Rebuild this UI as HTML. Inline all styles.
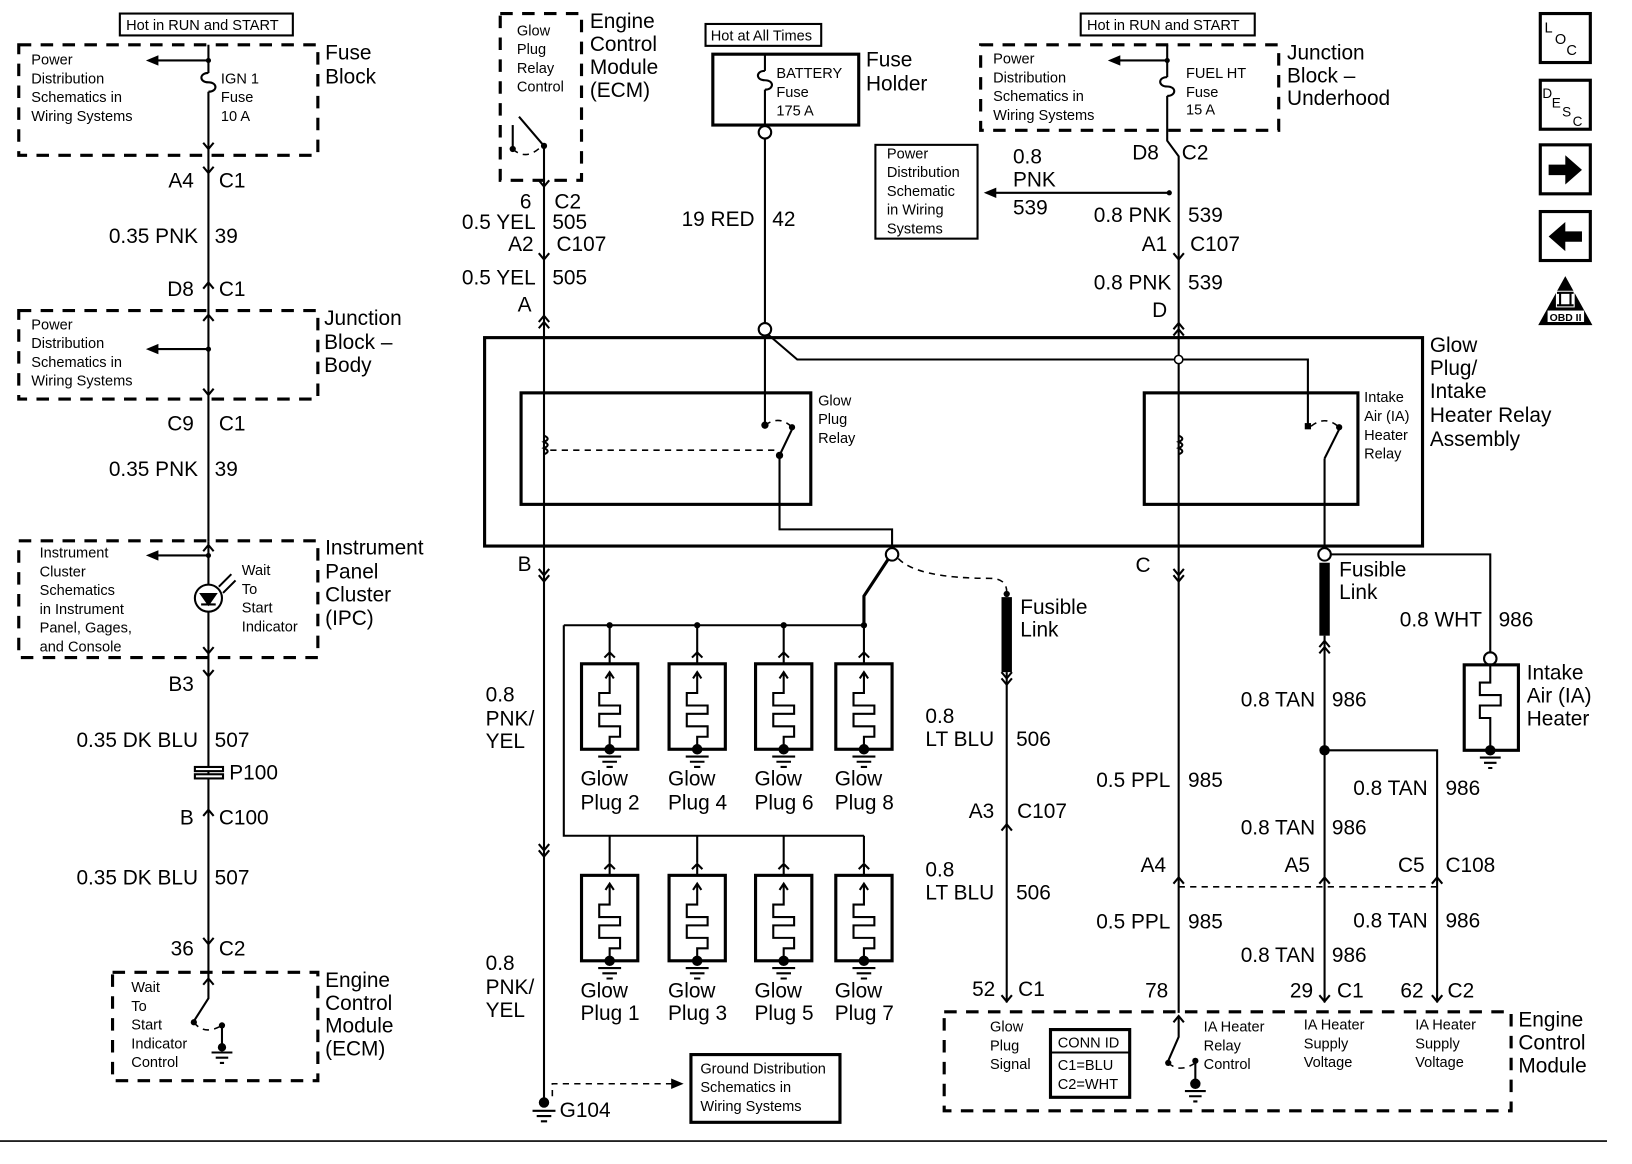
<!DOCTYPE html>
<html><head><meta charset="utf-8"><style>
html,body{margin:0;padding:0;background:#fff;}
svg{display:block;}
text{font-family:"Liberation Sans",Arial,sans-serif;fill:#000;}
.b{font-size:20px;}
.s{font-size:14px;}
.w{stroke:#000;stroke-width:2;fill:none;}
.t{stroke:#000;stroke-width:3;fill:none;}
.d{stroke:#000;stroke-width:3;fill:none;stroke-dasharray:12 9;}
.dl{stroke:#000;stroke-width:1.5;fill:none;stroke-dasharray:6 5;}
</style></head><body>
<svg width="1632" height="1164" viewBox="0 0 1566 1117" preserveAspectRatio="none" xmlns="http://www.w3.org/2000/svg">
<defs>
<symbol id="gp" overflow="visible">
<rect x="-27" y="0" width="54" height="82" stroke="#000" stroke-width="3" fill="#fff"/>
<path d="M-5,-6 L0,-11 L5,-6 M0,-11 V0 M-4,14 L0,8 L4,14 M0,8 V28 H-10 V40 H10 V48 H-10 V60 H10 V70 H0 V82" stroke="#000" stroke-width="2" fill="none"/>
<circle cx="0" cy="82" r="5"/>
<path d="M-11,89 H11 M-7,94 H7 M-3,99 H3" stroke="#000" stroke-width="2"/>
</symbol>
<symbol id="cu" overflow="visible"><path d="M-5,5 L0,-1 L5,5" stroke="#000" stroke-width="2" fill="none"/></symbol>
<symbol id="cd" overflow="visible"><path d="M-5,-5 L0,1 L5,-5" stroke="#000" stroke-width="2" fill="none"/></symbol>
<symbol id="fuse" overflow="visible"><path d="M0,0 C-9,0 -9,9 0,9 C9,9 9,18 0,18" stroke="#000" stroke-width="2" fill="none"/></symbol>
</defs>

<!-- LEFT COLUMN -->
<rect x="115" y="13" width="166" height="21" class="w"/>
<text x="121" y="29" class="s">Hot in RUN and START</text>
<rect x="18" y="43" width="287" height="106" class="d"/>
<text class="s"><tspan x="30" y="62">Power</tspan><tspan x="30" y="80">Distribution</tspan><tspan x="30" y="98">Schematics in</tspan><tspan x="30" y="116">Wiring Systems</tspan></text>
<path d="M200,58 H148" class="w"/><path d="M140,58 L152,53 V63Z"/>
<circle cx="200" cy="58" r="2.5"/>
<use href="#fuse" x="200" y="70"/>
<text class="s"><tspan x="212" y="80">IGN 1</tspan><tspan x="212" y="98">Fuse</tspan><tspan x="212" y="116">10 A</tspan></text>
<text class="b"><tspan x="312" y="57">Fuse</tspan><tspan x="312" y="80">Block</tspan></text>
<path d="M200,43 V70 M200,88 V520" class="w"/>
<use href="#cd" x="200" y="142"/><use href="#cd" x="200" y="165"/>
<text x="186" y="180" class="b" text-anchor="end">A4</text><text x="210" y="180" class="b">C1</text>
<text x="190" y="233" class="b" text-anchor="end">0.35 PNK</text><text x="206" y="233" class="b">39</text>
<use href="#cu" x="200" y="272"/>
<text x="186" y="284" class="b" text-anchor="end">D8</text><text x="210" y="284" class="b">C1</text>
<rect x="18" y="298" width="287" height="85" class="d"/>
<use href="#cu" x="200" y="303"/>
<text class="s"><tspan x="30" y="316">Power</tspan><tspan x="30" y="334">Distribution</tspan><tspan x="30" y="352">Schematics in</tspan><tspan x="30" y="370">Wiring Systems</tspan></text>
<path d="M200,335 H148" class="w"/><path d="M140,335 L152,330 V340Z"/><circle cx="200" cy="335" r="2.5"/>
<use href="#cd" x="200" y="378"/>
<text class="b"><tspan x="311" y="312">Junction</tspan><tspan x="311" y="335">Block –</tspan><tspan x="311" y="357">Body</tspan></text>
<text x="186" y="413" class="b" text-anchor="end">C9</text><text x="210" y="413" class="b">C1</text>
<text x="190" y="457" class="b" text-anchor="end">0.35 PNK</text><text x="206" y="457" class="b">39</text>
<rect x="18" y="519" width="287" height="112" class="d"/>
<use href="#cu" x="200" y="524"/>
<text class="s"><tspan x="38" y="535">Instrument</tspan><tspan x="38" y="553">Cluster</tspan><tspan x="38" y="571">Schematics</tspan><tspan x="38" y="589">in Instrument</tspan><tspan x="38" y="607">Panel, Gages,</tspan><tspan x="38" y="625">and Console</tspan></text>
<path d="M200,533 H148" class="w"/><path d="M140,533 L152,528 V538Z"/><circle cx="200" cy="533" r="2.5"/>
<path d="M200,520 V561 M200,587 V940" class="w"/>
<circle cx="200" cy="574" r="13" class="w"/>
<path d="M193,570 L207,570 L200,580 Z M193,580 H207" stroke="#000" stroke-width="2" fill="#000"/>
<path d="M210,563 L222,551 M214,569 L226,557" class="w" stroke-width="1.5"/>
<text class="s"><tspan x="232" y="552">Wait</tspan><tspan x="232" y="570">To</tspan><tspan x="232" y="588">Start</tspan><tspan x="232" y="606">Indicator</tspan></text>
<text class="b"><tspan x="312" y="532">Instrument</tspan><tspan x="312" y="555">Panel</tspan><tspan x="312" y="577">Cluster</tspan><tspan x="312" y="600">(IPC)</tspan></text>
<use href="#cd" x="200" y="626"/><use href="#cd" x="200" y="648"/>
<text x="186" y="663" class="b" text-anchor="end">B3</text>
<text x="190" y="717" class="b" text-anchor="end">0.35 DK BLU</text><text x="206" y="717" class="b">507</text>
<rect x="187" y="736" width="27" height="4" fill="#fff" stroke="#000" stroke-width="2"/><rect x="187" y="743" width="27" height="4" fill="#fff" stroke="#000" stroke-width="2"/>
<text x="220" y="748" class="b">P100</text>
<use href="#cu" x="200" y="778"/>
<text x="186" y="791" class="b" text-anchor="end">B</text><text x="210" y="791" class="b">C100</text>
<text x="190" y="849" class="b" text-anchor="end">0.35 DK BLU</text><text x="206" y="849" class="b">507</text>
<use href="#cd" x="200" y="905"/>
<text x="186" y="917" class="b" text-anchor="end">36</text><text x="210" y="917" class="b">C2</text>
<rect x="108" y="933" width="197" height="104" class="d"/>
<use href="#cu" x="200" y="940"/>
<text class="s"><tspan x="126" y="952">Wait</tspan><tspan x="126" y="970">To</tspan><tspan x="126" y="988">Start</tspan><tspan x="126" y="1006">Indicator</tspan><tspan x="126" y="1024">Control</tspan></text>
<path d="M200,940 V958 L186,980" class="w"/><circle cx="186" cy="981" r="3"/>
<path d="M186,981 Q196,994 213,984" class="dl"/>
<circle cx="213" cy="984" r="3"/><path d="M213,984 V1005" class="w"/><circle cx="213" cy="1005" r="4"/>
<path d="M203,1010 H223 M207,1015 H219 M211,1020 H215" class="w"/>
<text class="b"><tspan x="312" y="947">Engine</tspan><tspan x="312" y="969">Control</tspan><tspan x="312" y="991">Module</tspan><tspan x="312" y="1013">(ECM)</tspan></text>

<!-- MIDDLE TOP ECM -->
<rect x="480" y="13" width="78" height="160" class="d"/>
<text class="s"><tspan x="496" y="34">Glow</tspan><tspan x="496" y="52">Plug</tspan><tspan x="496" y="70">Relay</tspan><tspan x="496" y="88">Control</tspan></text>
<circle cx="492" cy="143" r="3"/><path d="M492,143 V120" class="w"/>
<path d="M492,143 Q505,155 520,140" class="dl"/>
<path d="M498,112 L522,140" class="w"/><circle cx="522" cy="140" r="3"/>
<text class="b"><tspan x="566" y="27">Engine</tspan><tspan x="566" y="49">Control</tspan><tspan x="566" y="71">Module</tspan><tspan x="566" y="93">(ECM)</tspan></text>
<path d="M522,140 V1058" class="w"/>
<use href="#cd" x="522" y="178"/>
<text x="510" y="200" class="b" text-anchor="end">6</text><text x="532" y="200" class="b">C2</text>
<text x="514" y="220" class="b" text-anchor="end">0.5 YEL</text><text x="530" y="220" class="b">505</text>
<use href="#cd" x="522" y="248"/>
<text x="512" y="241" class="b" text-anchor="end">A2</text><text x="534" y="241" class="b">C107</text>
<text x="514" y="273" class="b" text-anchor="end">0.5 YEL</text><text x="530" y="273" class="b">505</text>
<text x="510" y="299" class="b" text-anchor="end">A</text>
<use href="#cu" x="522" y="304"/><use href="#cu" x="522" y="310"/>
<text x="510" y="548" class="b" text-anchor="end">B</text>
<use href="#cd" x="522" y="551"/><use href="#cd" x="522" y="557"/>
<text class="b"><tspan x="466" y="673">0.8</tspan><tspan x="466" y="696">PNK/</tspan><tspan x="466" y="718">YEL</tspan></text>
<use href="#cd" x="522" y="815"/><use href="#cd" x="522" y="821"/>
<text class="b"><tspan x="466" y="931">0.8</tspan><tspan x="466" y="954">PNK/</tspan><tspan x="466" y="976">YEL</tspan></text>
<circle cx="522" cy="1058" r="5"/><path d="M511,1066 H533 M515,1071 H529 M519,1076 H525" class="w"/>
<text x="537" y="1072" class="b">G104</text>
<path d="M530,1052 V1040 H648" class="dl" stroke-width="2"/><path d="M656,1040 L644,1035 V1045Z"/>
<rect x="663" y="1012" width="143" height="65" class="t" stroke-width="2.5"/>
<text class="s"><tspan x="672" y="1030">Ground Distribution</tspan><tspan x="672" y="1048">Schematics in</tspan><tspan x="672" y="1066">Wiring Systems</tspan></text>

<!-- Fuse holder -->
<rect x="677" y="23" width="111" height="21" class="w"/>
<text x="682" y="39" class="s">Hot at All Times</text>
<rect x="684" y="52" width="140" height="68" class="t" stroke-width="2.5"/>
<path d="M734,52 V68 M734,86 V121" class="w"/><use href="#fuse" x="734" y="68"/>
<text class="s"><tspan x="745" y="75">BATTERY</tspan><tspan x="745" y="93">Fuse</tspan><tspan x="745" y="111">175 A</tspan></text>
<text class="b"><tspan x="831" y="64">Fuse</tspan><tspan x="831" y="87">Holder</tspan></text>
<circle cx="734" cy="127" r="6" class="w" fill="#fff"/>
<path d="M734,133 V310" class="w"/>
<text x="724" y="217" class="b" text-anchor="end">19 RED</text><text x="741" y="217" class="b">42</text>

<rect x="840" y="139" width="98" height="90" class="w"/>
<text class="s"><tspan x="851" y="152">Power</tspan><tspan x="851" y="170">Distribution</tspan><tspan x="851" y="188">Schematic</tspan><tspan x="851" y="206">in Wiring</tspan><tspan x="851" y="224">Systems</tspan></text>
<path d="M1122,185 H954" class="w"/><path d="M944,185 L956,180 V190Z"/><circle cx="1122" cy="185" r="2.5"/>
<text class="b"><tspan x="972" y="157">0.8</tspan><tspan x="972" y="179">PNK</tspan><tspan x="972" y="206">539</tspan></text>

<!-- Top right -->
<rect x="1037" y="13" width="167" height="21" class="w"/>
<text x="1043" y="29" class="s">Hot in RUN and START</text>
<rect x="941" y="43" width="286" height="82" class="d"/>
<text class="s"><tspan x="953" y="61">Power</tspan><tspan x="953" y="79">Distribution</tspan><tspan x="953" y="97">Schematics in</tspan><tspan x="953" y="115">Wiring Systems</tspan></text>
<path d="M1120,58 H1072" class="w"/><path d="M1063,58 L1075,53 V63Z"/><circle cx="1120" cy="58" r="2.5"/>
<path d="M1120,43 V74 M1120,92 V135 L1131,150 V972" class="w"/><use href="#fuse" x="1120" y="74"/>
<text class="s"><tspan x="1138" y="75">FUEL HT</tspan><tspan x="1138" y="93">Fuse</tspan><tspan x="1138" y="110">15 A</tspan></text>
<text class="b"><tspan x="1235" y="57">Junction</tspan><tspan x="1235" y="79">Block –</tspan><tspan x="1235" y="101">Underhood</tspan></text>
<text x="1112" y="153" class="b" text-anchor="end">D8</text><text x="1134" y="153" class="b">C2</text>
<text x="1124" y="213" class="b" text-anchor="end">0.8 PNK</text><text x="1140" y="213" class="b">539</text>
<use href="#cd" x="1131" y="248"/>
<text x="1120" y="241" class="b" text-anchor="end">A1</text><text x="1142" y="241" class="b">C107</text>
<text x="1124" y="278" class="b" text-anchor="end">0.8 PNK</text><text x="1140" y="278" class="b">539</text>
<text x="1120" y="304" class="b" text-anchor="end">D</text>
<use href="#cu" x="1131" y="311"/><use href="#cu" x="1131" y="317"/>

<!-- Relay assembly -->
<rect x="465" y="324" width="900" height="200" class="t"/>
<circle cx="734" cy="316" r="6" class="w" fill="#fff"/>
<path d="M737,321 L765,345 H1255 V410" class="w"/>
<path d="M734,322 V408" class="w"/><circle cx="734" cy="408" r="3.5"/>
<circle cx="1131" cy="345" r="4" fill="#fff" stroke="#000" stroke-width="1.5"/>
<rect x="500" y="377" width="278" height="107" class="t"/>
<text class="s"><tspan x="785" y="389">Glow</tspan><tspan x="785" y="407">Plug</tspan><tspan x="785" y="425">Relay</tspan></text>
<path d="M522,418 q7,3 0,6 q7,3 0,6 q7,3 0,6" class="w"/>
<path d="M528,432 H745" class="dl" stroke-width="2"/>
<path d="M734,408 Q748,398 760,410" class="dl"/><circle cx="760" cy="410" r="3"/>
<path d="M748,437 L760,412" class="w"/><circle cx="748" cy="437" r="3.5"/>
<path d="M748,437 V508 H856 V526" class="w"/>
<rect x="1098" y="377" width="205" height="107" class="t"/>
<text class="s"><tspan x="1309" y="386">Intake</tspan><tspan x="1309" y="404">Air (IA)</tspan><tspan x="1309" y="422">Heater</tspan><tspan x="1309" y="440">Relay</tspan></text>
<path d="M1131,418 q7,3 0,6 q7,3 0,6 q7,3 0,6" class="w"/>
<rect x="1252" y="406" width="6" height="6"/>
<path d="M1258,409 Q1272,398 1285,410" class="dl"/><circle cx="1285" cy="410" r="3"/>
<path d="M1271,440 L1285,412 M1271,440 V526" class="w"/>
<text class="b"><tspan x="1372" y="338">Glow</tspan><tspan x="1372" y="360">Plug/</tspan><tspan x="1372" y="382">Intake</tspan><tspan x="1372" y="405">Heater Relay</tspan><tspan x="1372" y="428">Assembly</tspan></text>

<!-- Glow plug bus -->
<circle cx="856" cy="532" r="6" class="w" fill="#fff"/>
<path d="M852,537 L829,572 V600" class="t"/>
<path d="M862,536 Q880,555 950,555 Q966,555 966,568" class="dl" stroke-width="2"/>
<path d="M541,600 H829 M541,600 V802 H829" class="w" stroke-width="2.5"/>
<circle cx="585" cy="600" r="3"/><circle cx="669" cy="600" r="3"/><circle cx="752" cy="600" r="3"/><circle cx="829" cy="600" r="3"/>
<path d="M585,600 V626 M669,600 V626 M752,600 V626 M829,600 V626 M585,802 V828 M669,802 V828 M752,802 V828 M829,802 V828" class="w"/>
<use href="#gp" x="585" y="637"/><use href="#gp" x="669" y="637"/><use href="#gp" x="752" y="637"/><use href="#gp" x="829" y="637"/>
<use href="#gp" x="585" y="840"/><use href="#gp" x="669" y="840"/><use href="#gp" x="752" y="840"/><use href="#gp" x="829" y="840"/>
<text class="b"><tspan x="557" y="754">Glow</tspan><tspan x="557" y="777">Plug 2</tspan></text>
<text class="b"><tspan x="641" y="754">Glow</tspan><tspan x="641" y="777">Plug 4</tspan></text>
<text class="b"><tspan x="724" y="754">Glow</tspan><tspan x="724" y="777">Plug 6</tspan></text>
<text class="b"><tspan x="801" y="754">Glow</tspan><tspan x="801" y="777">Plug 8</tspan></text>
<text class="b"><tspan x="557" y="957">Glow</tspan><tspan x="557" y="979">Plug 1</tspan></text>
<text class="b"><tspan x="641" y="957">Glow</tspan><tspan x="641" y="979">Plug 3</tspan></text>
<text class="b"><tspan x="724" y="957">Glow</tspan><tspan x="724" y="979">Plug 5</tspan></text>
<text class="b"><tspan x="801" y="957">Glow</tspan><tspan x="801" y="979">Plug 7</tspan></text>

<!-- LT BLU -->
<circle cx="966" cy="570" r="3"/>
<rect x="961" y="573" width="10" height="72"/>
<use href="#cd" x="966" y="650"/><use href="#cd" x="966" y="656"/>
<path d="M966,645 V962" class="w"/>
<text class="b"><tspan x="979" y="589">Fusible</tspan><tspan x="979" y="611">Link</tspan></text>
<text class="b"><tspan x="888" y="694">0.8</tspan><tspan x="888" y="716">LT BLU</tspan></text><text x="975" y="716" class="b">506</text>
<use href="#cu" x="966" y="792"/>
<text x="954" y="785" class="b" text-anchor="end">A3</text><text x="976" y="785" class="b">C107</text>
<text class="b"><tspan x="888" y="841">0.8</tspan><tspan x="888" y="863">LT BLU</tspan></text><text x="975" y="863" class="b">506</text>
<use href="#cd" x="966" y="960"/>
<text x="955" y="956" class="b" text-anchor="end">52</text><text x="977" y="956" class="b">C1</text>

<!-- PPL / TAN right -->
<text x="1104" y="549" class="b" text-anchor="end">C</text>
<use href="#cd" x="1131" y="551"/><use href="#cd" x="1131" y="557"/>
<circle cx="1271" cy="532" r="6" class="w" fill="#fff"/>
<path d="M1277,532 H1430 V627" class="w"/>
<circle cx="1430" cy="632" r="6" class="w" fill="#fff"/>
<rect x="1266" y="540" width="10" height="70"/>
<use href="#cu" x="1271" y="616"/><use href="#cu" x="1271" y="622"/>
<path d="M1271,610 V962" class="w" stroke-width="2.5"/>
<text class="b"><tspan x="1285" y="553">Fusible</tspan><tspan x="1285" y="575">Link</tspan></text>
<text x="1422" y="601" class="b" text-anchor="end">0.8 WHT</text><text x="1438" y="601" class="b">986</text>
<rect x="1405" y="638" width="52" height="82" class="t"/>
<path d="M1430,638 V655 H1420 V667 H1440 V677 H1420 V689 H1430 V720" class="w"/>
<circle cx="1430" cy="720" r="5"/><path d="M1420,727 H1440 M1424,732 H1436 M1428,737 H1432" class="w"/>
<text class="b"><tspan x="1465" y="652">Intake</tspan><tspan x="1465" y="674">Air (IA)</tspan><tspan x="1465" y="696">Heater</tspan></text>
<text x="1262" y="678" class="b" text-anchor="end">0.8 TAN</text><text x="1278" y="678" class="b">986</text>
<circle cx="1271" cy="720" r="5"/>
<path d="M1271,720 H1379 V962" class="w"/>
<text x="1123" y="755" class="b" text-anchor="end">0.5 PPL</text><text x="1140" y="755" class="b">985</text>
<text x="1370" y="763" class="b" text-anchor="end">0.8 TAN</text><text x="1387" y="763" class="b">986</text>
<text x="1262" y="801" class="b" text-anchor="end">0.8 TAN</text><text x="1278" y="801" class="b">986</text>
<text x="1119" y="837" class="b" text-anchor="end">A4</text>
<text x="1257" y="837" class="b" text-anchor="end">A5</text>
<text x="1367" y="837" class="b" text-anchor="end">C5</text><text x="1387" y="837" class="b">C108</text>
<use href="#cu" x="1131" y="843"/><use href="#cu" x="1271" y="843"/><use href="#cu" x="1379" y="843"/>
<path d="M1131,851 H1379" class="dl" stroke-width="2"/>
<text x="1123" y="891" class="b" text-anchor="end">0.5 PPL</text><text x="1140" y="891" class="b">985</text>
<text x="1370" y="890" class="b" text-anchor="end">0.8 TAN</text><text x="1387" y="890" class="b">986</text>
<text x="1262" y="923" class="b" text-anchor="end">0.8 TAN</text><text x="1278" y="923" class="b">986</text>
<text x="1121" y="957" class="b" text-anchor="end">78</text>
<text x="1260" y="957" class="b" text-anchor="end">29</text><text x="1283" y="957" class="b">C1</text>
<text x="1366" y="957" class="b" text-anchor="end">62</text><text x="1389" y="957" class="b">C2</text>
<use href="#cd" x="1271" y="960"/><use href="#cd" x="1379" y="960"/>

<!-- Bottom ECM -->
<rect x="906" y="971" width="544" height="95" class="d"/>
<use href="#cu" x="1131" y="976"/>
<path d="M1131,976 V995 L1121,1018" class="w"/><circle cx="1121" cy="1020" r="3"/>
<path d="M1121,1020 Q1132,1030 1147,1020" class="dl"/>
<circle cx="1147" cy="1018" r="3"/><path d="M1147,1018 V1040" class="w"/><circle cx="1147" cy="1040" r="5"/>
<path d="M1137,1047 H1157 M1141,1052 H1153 M1145,1057 H1149" class="w"/>
<text class="s"><tspan x="950" y="990">Glow</tspan><tspan x="950" y="1008">Plug</tspan><tspan x="950" y="1026">Signal</tspan></text>
<rect x="1008" y="988" width="76" height="65" class="t" stroke-width="2.5"/>
<path d="M1008,1010 H1084" class="w"/>
<text class="s"><tspan x="1015" y="1005">CONN ID</tspan><tspan x="1015" y="1027">C1=BLU</tspan><tspan x="1015" y="1045">C2=WHT</tspan></text>
<text class="s"><tspan x="1155" y="990">IA Heater</tspan><tspan x="1155" y="1008">Relay</tspan><tspan x="1155" y="1026">Control</tspan></text>
<text class="s"><tspan x="1251" y="988">IA Heater</tspan><tspan x="1251" y="1006">Supply</tspan><tspan x="1251" y="1024">Voltage</tspan></text>
<text class="s"><tspan x="1358" y="988">IA Heater</tspan><tspan x="1358" y="1006">Supply</tspan><tspan x="1358" y="1024">Voltage</tspan></text>
<text class="b"><tspan x="1457" y="985">Engine</tspan><tspan x="1457" y="1007">Control</tspan><tspan x="1457" y="1029">Module</tspan></text>

<!-- Icons -->
<rect x="1478" y="13" width="48" height="47" class="t"/>
<text x="1482" y="31" style="font-size:14px">L</text><text x="1492" y="42" style="font-size:14px">O</text><text x="1503" y="53" style="font-size:14px">C</text>
<rect x="1478" y="77" width="48" height="47" class="t"/>
<text x="1480" y="94" style="font-size:13px">D</text><text x="1489" y="103" style="font-size:13px">E</text><text x="1499" y="112" style="font-size:13px">S</text><text x="1509" y="121" style="font-size:13px">C</text>
<rect x="1478" y="139" width="48" height="47" class="t"/>
<path d="M1486,158 H1502 V149 L1518,163 L1502,177 V168 H1486Z"/>
<rect x="1478" y="203" width="48" height="47" class="t"/>
<path d="M1518,222 H1502 V213 L1486,227 L1502,241 V232 H1518Z"/>
<path d="M1502,265 L1528,312 H1476Z"/>
<rect x="1493" y="279" width="18" height="16" fill="#fff"/><path d="M1497,281 V293 M1507,281 V293 M1494,281 H1510 M1494,293 H1510" stroke="#000" stroke-width="2"/>
<rect x="1485" y="298" width="35" height="11" fill="#fff"/>
<text x="1487" y="308" style="font-size:10px;font-weight:bold">OBD II</text>

<path d="M0,1095 H1542" stroke="#000" stroke-width="1.5"/>
</svg>
</body></html>
